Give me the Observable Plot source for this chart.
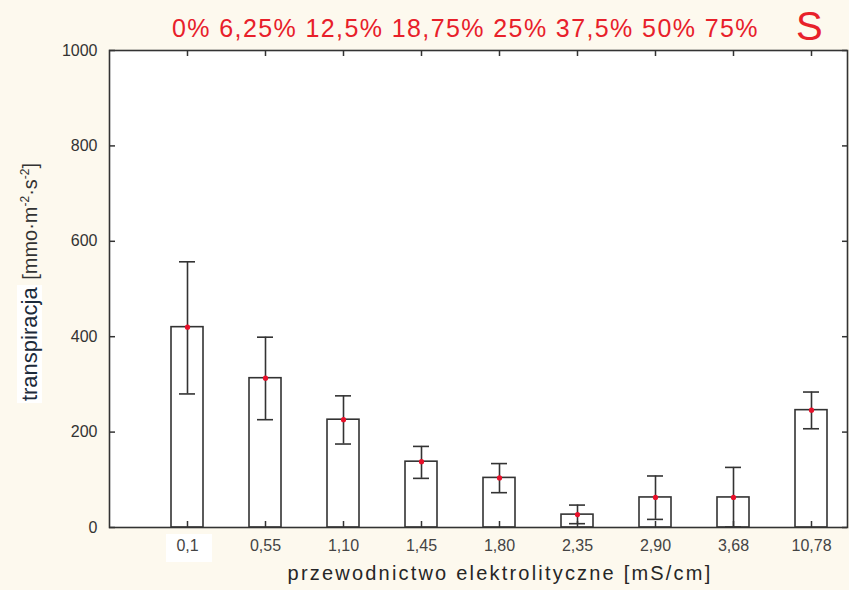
<!DOCTYPE html>
<html>
<head>
<meta charset="utf-8">
<script src="https://cdn.jsdelivr.net/npm/d3@7"></script>
<script src="https://cdn.jsdelivr.net/npm/@observablehq/plot@0.6"></script>
<style>
  html, body { margin: 0; padding: 0; background: #fdf9ee; }
  #wrap { position: relative; width: 849px; height: 590px; overflow: hidden; font-family: "Liberation Sans", Arial, sans-serif; }
  #chart { position: absolute; left: 0; top: 0; }
  #patch { position: absolute; left: 166px; top: 534px; width: 46px; height: 28px; background: #ffffff; }
  .over { position: absolute; white-space: nowrap; }
  #conc { left: 172px; top: 14px; font-size: 25px; color: #e8202a; letter-spacing: 1.4px; }
  #soil { left: 796px; top: 4px; font-size: 40px; color: #e8202a; }
  #xtitle { left: 0; width: 1000px; top: 562px; text-align: center; font-size: 20px; color: #262626; letter-spacing: 2.2px; }
  #ytitle { left: 30px; top: 283px; transform: translate(-50%, -50%) rotate(-90deg); font-size: 20px; color: #333; }
  #ytitle .main { background: #ffffff; color: #1c2a3a; padding: 0 2px; font-size: 22px; }
  #ytitle sup { font-size: 12px; }
</style>
</head>
<body>
<div id="wrap">
  <div id="patch"></div>
  <div id="chart"></div>
  <div class="over" id="conc"></div>
  <div class="over" id="soil">S</div>
  <div class="over" id="xtitle">przewodnictwo elektrolityczne [mS/cm]</div>
  <div class="over" id="ytitle"><span class="main">transpiracja</span> [mmo·m<sup>-2</sup>·s<sup>-2</sup>]</div>
</div>
<script>
// Electrical conductivity of the solution (category labels)
const conductivity = ["0,1", "0,55", "1,10", "1,45", "1,80", "2,35", "2,90", "3,68", "10,78"];
// Mean transpiration and the error-bar limits for each conductivity level
const meanTranspiration = [420, 313, 226, 138, 104, 27, 63, 63, 246];
const lowerLimit = [280, 226, 175, 103, 73, 8, 17, 1, 207];
const upperLimit = [557, 399, 276, 170, 134, 47, 108, 126, 284];
// Concentration labels printed across the top
const concentrations = ["0%", "6,25%", "12,5%", "18,75%", "25%", "37,5%", " 50%", "75%"];
const yTicks = [0, 200, 400, 600, 800, 1000];

document.getElementById("conc").textContent = concentrations.join(" ");

const rows = conductivity.map((c, i) => ({
  c, mean: meanTranspiration[i], lo: lowerLimit[i], hi: upperLimit[i]
}));

const ink = "#333333";
const W = 849, H = 590;
const M = { top: 50, right: 2, bottom: 63, left: 109 };
const innerW = W - M.left - M.right;
const innerH = H - M.top - M.bottom;
const tickLen = 6;

const chart = Plot.plot({
  width: W,
  height: H,
  marginTop: M.top,
  marginBottom: M.bottom,
  marginLeft: M.left,
  marginRight: M.right,
  style: { background: "transparent", fontFamily: "'Liberation Sans', Arial, sans-serif", fontSize: "16px", color: ink },
  x: { type: "band", domain: conductivity, paddingInner: 0.59, paddingOuter: 0.525, align: 0.756 },
  y: { domain: [0, 1000] },
  marks: [
    Plot.frame({ fill: "white", stroke: null }),
    Plot.barY(rows, { x: "c", y: "mean", fill: "white", stroke: ink, strokeWidth: 1.6 }),
    Plot.ruleX(rows, { x: "c", y1: "lo", y2: "hi", stroke: ink, strokeWidth: 1.6 }),
    Plot.tickY(rows, { x: "c", y: "hi", stroke: ink, strokeWidth: 1.6, insetLeft: 8, insetRight: 8 }),
    Plot.tickY(rows, { x: "c", y: "lo", stroke: ink, strokeWidth: 1.6, insetLeft: 8, insetRight: 8 }),
    Plot.dot(rows, { x: "c", y: "mean", r: 2.6, fill: "#e8102a", stroke: null }),
    // tick labels
    Plot.axisY({ ticks: yTicks, tickSize: 0, tickPadding: 12, tickFormat: d3.format("d"), label: null, fill: ink }),
    Plot.axisX({ anchor: "bottom", tickSize: 0, tickPadding: 12, label: null, fill: "#444" }),
    // short tick marks pointing into the frame on all four sides
    Plot.tickY(yTicks, { y: d => d, insetRight: innerW - tickLen, stroke: ink, strokeWidth: 1.5 }),
    Plot.tickY(yTicks, { y: d => d, insetLeft: innerW - tickLen + 1, stroke: ink, strokeWidth: 1.5 }),
    Plot.tickX(conductivity, { x: d => d, insetTop: innerH - tickLen, stroke: ink, strokeWidth: 1.5 }),
    Plot.tickX(conductivity, { x: d => d, insetBottom: innerH - tickLen, stroke: ink, strokeWidth: 1.5 }),
    Plot.frame({ stroke: ink, strokeWidth: 1.6 })
  ]
});
document.getElementById("chart").appendChild(chart);
</script>
</body>
</html>
